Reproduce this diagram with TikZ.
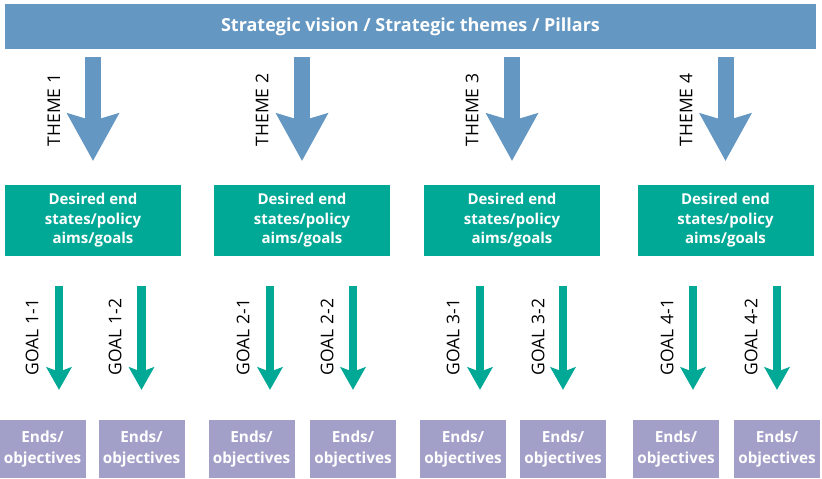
\documentclass[tikz,border=0pt]{standalone}
\usepackage{fontspec}
\setmainfont{Open Sans}
\usetikzlibrary{arrows.meta,positioning}

\definecolor{pillarblue}{RGB}{100,151,193}
\definecolor{aimgreen}{RGB}{0,168,150}
\definecolor{endpurple}{RGB}{162,160,200}

\tikzset{
  pillarbar/.style={fill=pillarblue, text=white, inner sep=0pt,
    minimum width=811pt, minimum height=45pt,
    font=\bfseries\fontsize{18}{20}\selectfont},
  aimbox/.style={fill=aimgreen, text=white, align=center, inner sep=0pt,
    minimum width=176pt, minimum height=71pt,
    font=\bfseries\fontsize{15}{19.5}\selectfont},
  endbox/.style={fill=endpurple, text=white, align=center, inner sep=0pt,
    minimum width=86pt, minimum height=58pt,
    font=\bfseries\fontsize{15.3}{21}\selectfont},
  themearrow/.style={draw=pillarblue, line width=16pt,
    -{Stealth[length=48pt,width=53pt,inset=8pt,line width=0pt]},
    shorten <=8pt, shorten >=24pt},
  goalarrow/.style={draw=aimgreen, line width=8.5pt,
    -{Stealth[length=23pt,width=26pt,inset=5pt,line width=0pt]},
    shorten <=30pt, shorten >=30pt},
  vlabel/.style={rotate=90, font=\fontsize{17.5}{20}\selectfont}
}

\begin{document}
\begin{tikzpicture}[x=1pt,y=-1pt]
  \useasboundingbox (0,0) rectangle (822,479);
  % top bar
  \node[pillarbar] (vision) at (410.5,26.5) {Strategic vision / Strategic themes / Pillars};
  % desired end states
  \node[aimbox] (aims1) at (93,220.5) {Desired end\\states/policy\\aims/goals};
  \node[aimbox] (aims2) at (302,220.5) {Desired end\\states/policy\\aims/goals};
  \node[aimbox] (aims3) at (512,220.5) {Desired end\\states/policy\\aims/goals};
  \node[aimbox] (aims4) at (725.5,220.5) {Desired end\\states/policy\\aims/goals};
  % ends/objectives
  \node[endbox] (ends11) at (42.5,449) {Ends/\\objectives};
  \node[endbox] (ends12) at (141.5,449) {Ends/\\objectives};
  \node[endbox] (ends21) at (251.5,449) {Ends/\\objectives};
  \node[endbox] (ends22) at (353,449) {Ends/\\objectives};
  \node[endbox] (ends31) at (463,449) {Ends/\\objectives};
  \node[endbox] (ends32) at (563,449) {Ends/\\objectives};
  \node[endbox] (ends41) at (676,449) {Ends/\\objectives};
  \node[endbox] (ends42) at (777,449) {Ends/\\objectives};
  % themes
  \draw[themearrow] (vision.south -| aims1.north) -- (aims1.north);
  \draw[themearrow] (vision.south -| aims2.north) -- (aims2.north);
  \draw[themearrow] (vision.south -| aims3.north) -- (aims3.north);
  \draw[themearrow] (vision.south -| aims4.north) -- (aims4.north);
  \node[vlabel] (theme1) at (54,110) {THEME 1};
  \node[vlabel] (theme2) at (262,110) {THEME 2};
  \node[vlabel] (theme3) at (472,110) {THEME 3};
  \node[vlabel] (theme4) at (686,110) {THEME 4};
  % goals
  \draw[goalarrow] ([xshift=16.5pt]ends11.north |- aims1.south) -- ([xshift=16.5pt]ends11.north);
  \draw[goalarrow] (ends12.north |- aims1.south) -- (ends12.north);
  \draw[goalarrow] ([xshift=18.5pt]ends21.north |- aims2.south) -- ([xshift=18.5pt]ends21.north);
  \draw[goalarrow] (ends22.north |- aims2.south) -- (ends22.north);
  \draw[goalarrow] ([xshift=17pt]ends31.north |- aims3.south) -- ([xshift=17pt]ends31.north);
  \draw[goalarrow] (ends32.north |- aims3.south) -- (ends32.north);
  \draw[goalarrow] ([xshift=17pt]ends41.north |- aims4.south) -- ([xshift=17pt]ends41.north);
  \draw[goalarrow] (ends42.north |- aims4.south) -- (ends42.north);
  \node[vlabel] (goal11) at (32,337) {GOAL 1-1};
  \node[vlabel] (goal12) at (115,337) {GOAL 1-2};
  \node[vlabel] (goal21) at (243,337) {GOAL 2-1};
  \node[vlabel] (goal22) at (327,337) {GOAL 2-2};
  \node[vlabel] (goal31) at (453,337) {GOAL 3-1};
  \node[vlabel] (goal32) at (538,337) {GOAL 3-2};
  \node[vlabel] (goal41) at (667,337) {GOAL 4-1};
  \node[vlabel] (goal42) at (751,337) {GOAL 4-2};
\end{tikzpicture}
\end{document}
